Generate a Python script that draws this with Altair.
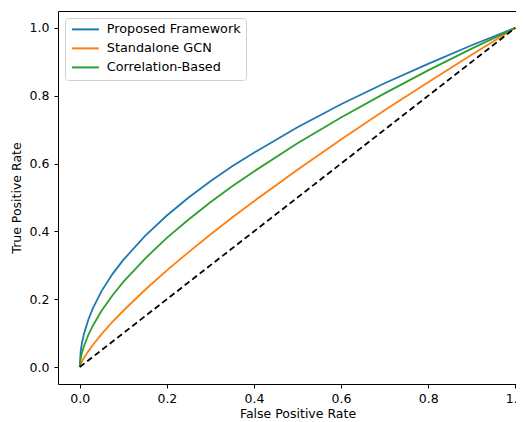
import altair as alt
import pandas as pd

fpr = [0, 0.002, 0.005, 0.01, 0.02, 0.03, 0.05, 0.075, 0.1, 0.15, 0.2, 0.25,
       0.3, 0.35, 0.4, 0.5, 0.6, 0.7, 0.8, 0.9, 1.0]
tpr_proposed = [0, 0.045, 0.071, 0.100, 0.141, 0.173, 0.224, 0.274, 0.316, 0.387,
                0.447, 0.500, 0.548, 0.592, 0.632, 0.707, 0.775, 0.837, 0.894, 0.949, 1.0]
tpr_gcn = [0, 0.008, 0.016, 0.028, 0.047, 0.065, 0.097, 0.133, 0.166, 0.228,
           0.285, 0.339, 0.391, 0.441, 0.489, 0.582, 0.671, 0.757, 0.840, 0.921, 1.0]
tpr_corr = [0, 0.024, 0.042, 0.063, 0.096, 0.122, 0.166, 0.211, 0.251, 0.320,
            0.381, 0.435, 0.486, 0.533, 0.577, 0.660, 0.736, 0.807, 0.875, 0.939, 1.0]
series_names = ["Proposed Framework", "Standalone GCN", "Correlation-Based"]
series_colors = ["#1f77b4", "#ff7f0e", "#2ca02c"]
diag_x = [0, 1]
diag_y = [0, 1]

rows = []
for name, vals in zip(series_names, [tpr_proposed, tpr_gcn, tpr_corr]):
    for i, (x, y) in enumerate(zip(fpr, vals)):
        rows.append({"series": name, "fpr": x, "tpr": y, "order": i})
df = pd.DataFrame(rows)
diag = pd.DataFrame({"fpr": diag_x, "tpr": diag_y})

FONT = "DejaVu Sans"
xscale = alt.Scale(domain=[-0.05, 1.05], nice=False, zero=False)
yscale = alt.Scale(domain=[-0.05, 1.05], nice=False, zero=False)

lines = alt.Chart(df).mark_line(strokeWidth=1.8, clip=True).encode(
    x=alt.X("fpr:Q", scale=xscale, title="False Positive Rate",
            axis=alt.Axis(values=[0, 0.2, 0.4, 0.6, 0.8, 1.0], format=".1f")),
    y=alt.Y("tpr:Q", scale=yscale, title="True Positive Rate",
            axis=alt.Axis(values=[0, 0.2, 0.4, 0.6, 0.8, 1.0], format=".1f")),
    color=alt.Color("series:N", sort=series_names,
                    scale=alt.Scale(domain=series_names, range=series_colors),
                    legend=alt.Legend(title=None, orient="none", legendX=7, legendY=7,
                                      symbolType="M-3,0H3", symbolSize=81,
                                      symbolOffset=9,
                                      symbolStrokeWidth=2, labelOffset=15,
                                      labelFont=FONT, labelFontSize=12.8,
                                      labelColor="#000000", rowPadding=5,
                                      padding=5, strokeColor="#d0d0d0",
                                      fillColor="#ffffff", cornerRadius=3)),
    order="order:Q",
)

diag_line = alt.Chart(diag).mark_line(color="black", strokeDash=[6, 3.5],
                                      strokeWidth=1.8).encode(
    x=alt.X("fpr:Q", scale=xscale),
    y=alt.Y("tpr:Q", scale=yscale),
)

chart = alt.layer(lines, diag_line).properties(
    width=479, height=373,
    background="white",
    autosize=alt.AutoSizeParams(type="none"),
    padding={"left": 50, "top": 3, "right": -21, "bottom": 38},
).configure_view(
    stroke="#000000", strokeWidth=1, fill="white"
).configure_axis(
    grid=False, domain=False, tickColor="#000000", tickSize=4, tickWidth=1,
    labelFont=FONT, labelFontSize=12.5, labelColor="#000000",
    titleFont=FONT, titleFontSize=12.5, titleColor="#000000", titleFontWeight="normal",
    labelFlush=False, labelOverlap=False,
).configure_axisX(
    labelPadding=4, titlePadding=3,
).configure_axisY(
    labelPadding=5, titlePadding=6,
)

chart.save("out.html", embed_options={"renderer": "svg", "actions": False})
